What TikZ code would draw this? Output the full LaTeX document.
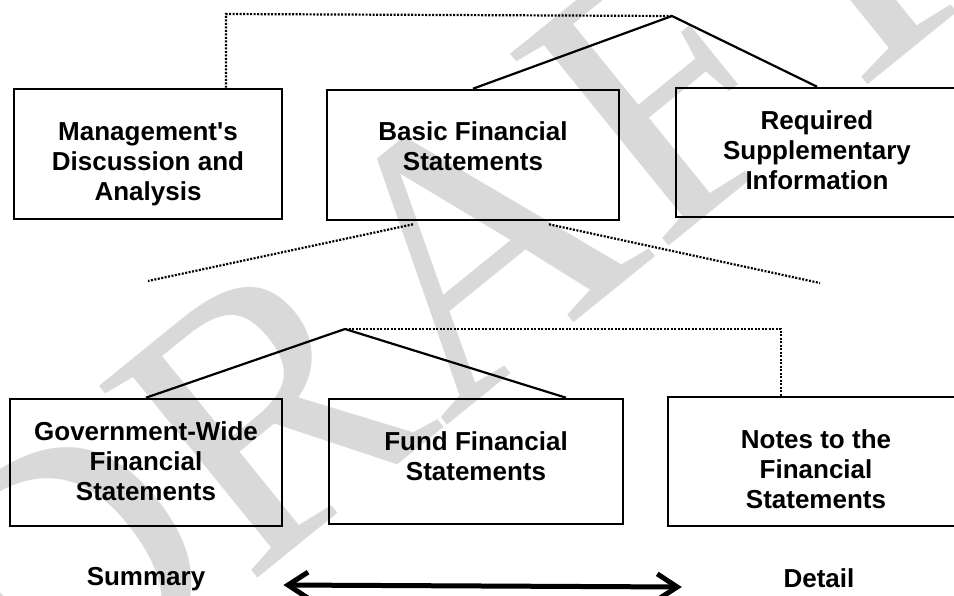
\documentclass[tikz,border=0pt]{standalone}
\usepackage{fontspec}
\setmainfont{Liberation Sans}[Ligatures=TeXOff]
\newfontfamily\wmfont{Liberation Serif}
\usetikzlibrary{arrows.meta}
\begin{document}
\begin{tikzpicture}[x=1pt,y=-1pt,
  box/.style={draw=black, line width=2.6pt, rectangle, inner sep=0pt},
  lbl/.style={font=\fontsize{26}{30}\selectfont\bfseries, inner sep=0pt, anchor=base},
  solidline/.style={line width=2.2pt},
  dotline/.style={line width=2.2pt, dash pattern=on 2pt off 1.5pt},
  bigarrow/.style={line width=5pt, {Straight Barb[length=20pt,width=26pt]}-{Straight Barb[length=20pt,width=26pt]}},
  wm/.style={text=black!15, font=\wmfont\fontsize{380}{380}\selectfont, inner sep=0pt}]
\useasboundingbox (0,0) rectangle (954,595);
\clip (0,0) rectangle (954,595);
\fill[white] (0,0) rectangle (954,595);
% watermark
\node[wm, rotate=39] (wmark) at (440,270) {DRAFT};
% boxes
\node[box, minimum width=268pt, minimum height=130pt] (mda) at (148,154) {};
\node[box, minimum width=292pt, minimum height=130pt] (bfs) at (473,155) {};
\node[box, minimum width=282pt, minimum height=129pt] (rsi) at (817,152.5) {};
\node[box, minimum width=272pt, minimum height=127pt] (gw) at (146,462.5) {};
\node[box, minimum width=294pt, minimum height=125pt] (ffs) at (476,461.5) {};
\node[box, minimum width=296pt, minimum height=129pt] (notes) at (816,461.5) {};
% texts
\node[lbl] (mdat) at (148,140) {\begin{tabular}[t]{@{}c@{}}Management's\\Discussion and\\Analysis\end{tabular}};
\node[lbl] (bfst) at (473,140) {\begin{tabular}[t]{@{}c@{}}Basic Financial\\Statements\end{tabular}};
\node[lbl] (rsit) at (817,129) {\begin{tabular}[t]{@{}c@{}}Required\\Supplementary\\Information\end{tabular}};
\node[lbl] (gwt) at (146,440) {\begin{tabular}[t]{@{}c@{}}Government-Wide\\Financial\\Statements\end{tabular}};
\node[lbl] (ffst) at (476,450) {\begin{tabular}[t]{@{}c@{}}Fund Financial\\Statements\end{tabular}};
\node[lbl] (notest) at (816,448) {\begin{tabular}[t]{@{}c@{}}Notes to the\\Financial\\Statements\end{tabular}};
\node[lbl] (sum) at (146,585) {Summary};
\node[lbl] (det) at (819,587) {Detail};
% upper connectors
\coordinate (apex1) at (672,16);
\coordinate (c1) at (226,14);
\draw[dotline] (apex1) -- (c1) -- (c1 |- mda.north);
\draw[solidline] (bfs.north) -- (apex1) -- (rsi.north);
% dotted fan below basic statements
\coordinate (d1) at (148,281);
\coordinate (d2) at (820,283);
\draw[dotline] ([xshift=-60pt,yshift=-3pt]bfs.south) -- (d1);
\draw[dotline] ([xshift=76pt,yshift=-3pt]bfs.south) -- (d2);
% lower connectors
\coordinate (apex2) at (345,329);
\coordinate (c2) at (781,329);
\draw[solidline] (gw.north) -- (apex2) -- ([xshift=90pt]ffs.north);
\draw[dotline] (apex2) -- (c2) -- (c2 |- notes.north);
% summary-detail arrow
\draw[bigarrow] ([xshift=78pt]sum.base east) -- ([xshift=-101.6pt]det.base west);
\end{tikzpicture}
\end{document}
